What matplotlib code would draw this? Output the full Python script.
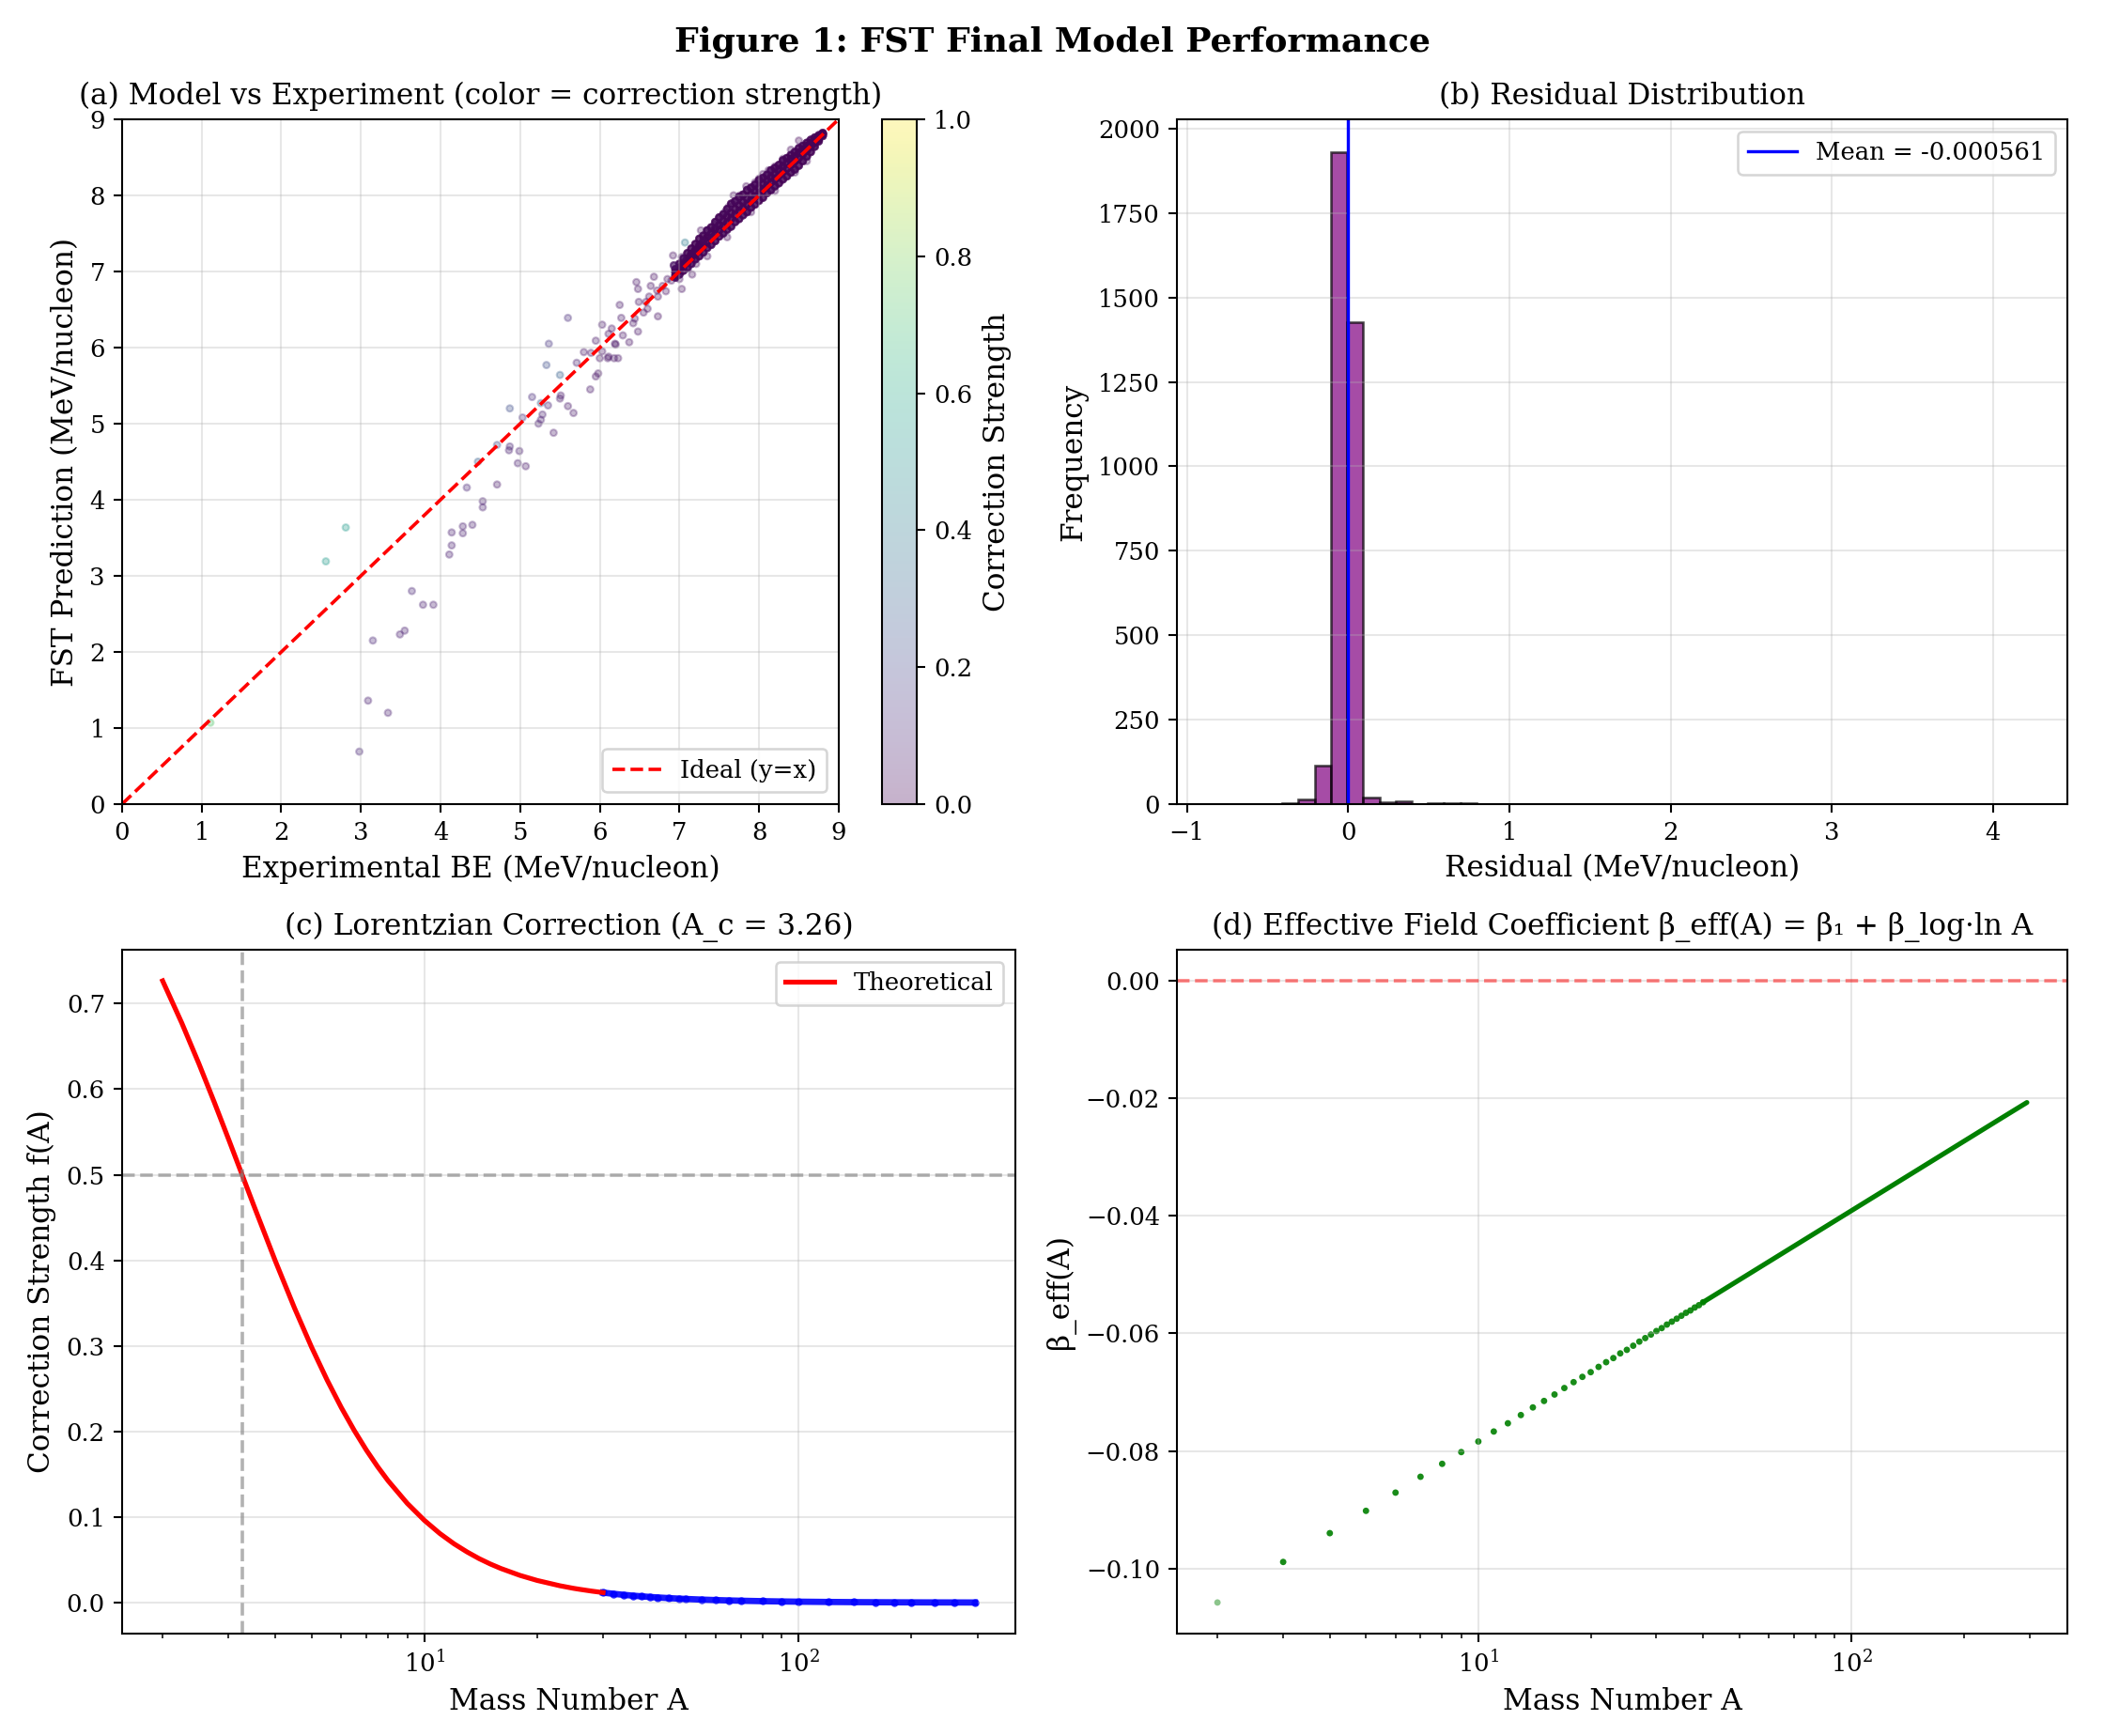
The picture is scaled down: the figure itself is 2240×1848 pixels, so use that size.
import numpy as np
import matplotlib
matplotlib.use("Agg")
import matplotlib.pyplot as plt

# ---------------- data ----------------
# (a) isolated nuclei: experimental BE, FST prediction, correction strength
scatter_exp = [1.11, 2.56, 2.81, 2.98, 3.09, 3.34, 3.15, 3.49, 3.55, 3.64, 3.78, 3.91,
               4.11, 4.14, 4.14, 4.28, 4.28, 4.40, 4.53, 4.53, 4.33, 4.71, 4.47, 4.71,
               4.87, 4.86, 4.99, 4.97, 5.07, 4.87, 5.03, 5.23, 5.26, 5.28, 5.42, 5.15,
               5.26, 5.35, 5.50, 5.51, 5.60, 5.67, 5.33, 5.50, 5.71, 5.88, 5.95, 5.98,
               6.00, 6.10, 6.18, 6.23, 5.36, 5.60, 6.03, 5.95, 6.25, 6.27, 6.15, 6.11,
               6.19, 6.20, 6.29, 6.37, 6.48, 6.42, 6.44, 5.80, 5.89, 6.03, 6.11, 6.46,
               6.48, 6.49, 6.58, 6.62, 6.68, 6.64, 6.72, 6.73, 6.73, 6.60, 6.55, 6.79,
               6.83, 6.85, 6.90, 6.92, 6.93, 6.93, 6.93, 7.00, 7.03, 7.07, 7.03, 7.16,
               7.11, 7.21, 7.27, 7.35, 7.41, 7.57, 7.62, 7.68, 7.76, 7.84, 7.95, 8.05,
               8.12, 8.20, 8.30, 8.40, 8.50, 7.30, 7.45, 7.50, 7.70, 7.90, 8.00, 7.35,
               7.60, 7.90, 8.20, 8.45, 8.60]
scatter_fst = [1.07, 3.19, 3.635, 0.69, 1.36, 1.20, 2.15, 2.23, 2.28, 2.80, 2.62, 2.62,
               3.28, 3.40, 3.57, 3.56, 3.65, 3.67, 3.98, 3.90, 4.16, 4.20, 4.50, 4.72,
               4.70, 4.65, 4.64, 4.48, 4.44, 5.20, 5.08, 5.00, 5.05, 5.12, 4.88, 5.35,
               5.27, 5.24, 5.33, 5.37, 5.23, 5.14, 5.77, 5.64, 5.80, 5.45, 5.62, 5.66,
               5.86, 5.86, 5.86, 5.86, 6.05, 6.39, 6.30, 6.09, 6.56, 6.39, 6.25, 6.18,
               6.05, 6.04, 6.16, 6.07, 6.21, 6.32, 6.38, 5.94, 5.93, 5.95, 5.88, 6.86,
               6.77, 6.60, 6.60, 6.67, 6.93, 6.81, 6.75, 6.67, 6.41, 6.51, 6.46, 6.81,
               6.74, 6.90, 6.88, 7.21, 7.08, 7.08, 7.08, 6.90, 6.77, 7.38, 7.19, 6.96,
               7.04, 7.10, 7.54, 7.54, 7.45, 7.78, 7.85, 8.00, 8.00, 8.12, 8.17, 8.28,
               8.33, 8.38, 8.48, 8.60, 8.72, 7.40, 7.62, 7.70, 7.92, 8.10, 8.22, 7.20,
               7.45, 7.78, 8.06, 8.30, 8.45]
scatter_corr = [0.73, 0.54, 0.54, 0.10, 0.08, 0.08, 0.10, 0.08, 0.08, 0.10, 0.08, 0.08,
                0.08, 0.08, 0.08, 0.08, 0.08, 0.08, 0.08, 0.08, 0.10, 0.06, 0.30, 0.23,
                0.10, 0.08, 0.08, 0.08, 0.06, 0.23, 0.12, 0.08, 0.08, 0.08, 0.06, 0.12,
                0.30, 0.10, 0.06, 0.06, 0.06, 0.06, 0.23, 0.30, 0.08, 0.06, 0.05, 0.05,
                0.05, 0.05, 0.05, 0.05, 0.15, 0.12, 0.06, 0.06, 0.06, 0.06, 0.05, 0.05,
                0.05, 0.05, 0.05, 0.05, 0.05, 0.05, 0.05, 0.06, 0.06, 0.05, 0.05, 0.05,
                0.05, 0.05, 0.04, 0.04, 0.04, 0.04, 0.04, 0.04, 0.04, 0.04, 0.04, 0.04,
                0.04, 0.04, 0.04, 0.04, 0.04, 0.04, 0.04, 0.04, 0.04, 0.40, 0.04, 0.04,
                0.04, 0.03, 0.03, 0.03, 0.03, 0.03, 0.03, 0.02, 0.02, 0.02, 0.02, 0.02,
                0.02, 0.02, 0.02, 0.02, 0.02, 0.03, 0.03, 0.03, 0.03, 0.02, 0.02, 0.03,
                0.03, 0.02, 0.02, 0.02, 0.02]

# (a) dense band of heavy nuclei: experimental BE and residual tracks (FST - Exp)
band_exp = [6.95, 7.00, 7.05, 7.10, 7.15, 7.20, 7.25, 7.30, 7.35, 7.40, 7.45, 7.50, 7.55,
            7.60, 7.65, 7.70, 7.75, 7.80, 7.85, 7.90, 7.95, 8.00, 8.05, 8.10, 8.15, 8.20,
            8.25, 8.30, 8.35, 8.40, 8.45, 8.50, 8.55, 8.60, 8.65, 8.70, 8.75, 8.80]
band_resid_hi = [0.08, 0.10, 0.12, 0.14, 0.15, 0.16, 0.18, 0.17, 0.19, 0.18, 0.20, 0.21, 0.20,
                 0.22, 0.24, 0.22, 0.23, 0.21, 0.22, 0.20, 0.19, 0.20, 0.18, 0.17, 0.18, 0.16,
                 0.15, 0.16, 0.14, 0.13, 0.12, 0.12, 0.10, 0.09, 0.08, 0.06, 0.04, 0.02]
band_resid_midhi = [0.04, 0.05, 0.06, 0.07, 0.08, 0.08, 0.09, 0.09, 0.10, 0.10, 0.11, 0.11, 0.11,
                    0.12, 0.12, 0.12, 0.12, 0.11, 0.11, 0.11, 0.10, 0.10, 0.10, 0.09, 0.09, 0.08,
                    0.08, 0.08, 0.07, 0.07, 0.06, 0.06, 0.05, 0.05, 0.04, 0.03, 0.02, 0.01]
band_resid_midlo = [0.00, 0.01, 0.02, 0.02, 0.03, 0.03, 0.03, 0.04, 0.04, 0.04, 0.04, 0.04, 0.04,
                    0.04, 0.04, 0.04, 0.04, 0.03, 0.03, 0.03, 0.03, 0.02, 0.02, 0.02, 0.02, 0.01,
                    0.01, 0.01, 0.00, 0.00, 0.00, -0.01, -0.01, -0.01, -0.01, -0.01, -0.01, 0.00]
band_resid_lo = [-0.03, -0.04, -0.04, -0.05, -0.05, -0.04, -0.05, -0.05, -0.04, -0.05, -0.05, -0.04,
                 -0.05, -0.05, -0.06, -0.05, -0.06, -0.06, -0.07, -0.06, -0.07, -0.07, -0.08, -0.07,
                 -0.08, -0.08, -0.09, -0.09, -0.10, -0.10, -0.11, -0.11, -0.10, -0.09, -0.08, -0.06,
                 -0.04, -0.02]
band_corr = 0.01
band_overlap = 5          # nuclei stacked on each plotted band position

# (b) residual histogram
hist_min, hist_max, n_bins = -0.81, 4.21, 50
hist_counts = [1, 1, 0, 1, 4, 13, 115, 1931, 1427, 20, 5, 7, 1, 4, 2, 2, 1, 0, 1, 1,
               1, 1, 0, 0, 0, 1, 1, 1, 1, 1, 0, 1, 0, 0, 0, 0, 0, 0, 0, 0,
               0, 0, 0, 0, 0, 0, 1, 0, 0, 1]
mean_resid = -0.000561

# (c) Lorentzian correction
A_c = 3.26
theory_A = [2, 2.25, 2.5, 2.75, 3, 3.5, 4, 4.5, 5, 5.5, 6, 6.5, 7, 7.5, 8, 9, 10, 11, 12,
            13, 14, 15, 16, 18, 20, 23, 25, 26, 28, 30]
theory_f = [0.7266, 0.6773, 0.6297, 0.5843, 0.5415, 0.4645, 0.3991, 0.3442, 0.2983, 0.2600,
            0.2279, 0.2010, 0.1782, 0.1589, 0.1424, 0.1160, 0.0961, 0.0807, 0.0687, 0.0592,
            0.0514, 0.0451, 0.0399, 0.0318, 0.0259, 0.0197, 0.0167, 0.0155, 0.0134, 0.0117]
data_A = [30, 32, 34, 36, 38, 40, 42, 45, 48, 50, 55, 60, 65, 70, 80, 90, 100, 120, 140,
          160, 180, 200, 230, 260, 295]
data_f = [0.01167, 0.01027, 0.00911, 0.00813, 0.00731, 0.00660, 0.00599, 0.00522, 0.00459,
          0.00423, 0.00350, 0.00294, 0.00251, 0.00216, 0.00166, 0.00131, 0.00106, 0.00074,
          0.00054, 0.00042, 0.00033, 0.00027, 0.00020, 0.00016, 0.00012]

# (d) effective field coefficient
beta_A = list(range(2, 41))
beta_vals = [-0.1058, -0.0989, -0.0940, -0.0902, -0.0871, -0.0844, -0.0822, -0.0802, -0.0784,
             -0.0767, -0.0753, -0.0739, -0.0726, -0.0715, -0.0704, -0.0693, -0.0683, -0.0674,
             -0.0666, -0.0657, -0.0649, -0.0642, -0.0634, -0.0628, -0.0621, -0.0614, -0.0608,
             -0.0602, -0.0596, -0.0591, -0.0585, -0.0580, -0.0575, -0.0570, -0.0565, -0.0561,
             -0.0556, -0.0552, -0.0547]
beta_dense_A = [40, 60, 100, 150, 200, 250, 295]
beta_dense_vals = [-0.0547, -0.0478, -0.0391, -0.0322, -0.0273, -0.0235, -0.0207]

# ---------------- styling ----------------
plt.rcParams['font.family'] = ['DejaVu Serif', 'DejaVu Sans']
plt.rcParams['xtick.labelsize'] = 10
plt.rcParams['ytick.labelsize'] = 10
plt.rcParams['axes.labelsize'] = 12
plt.rcParams['axes.titlesize'] = 12
plt.rcParams['legend.fontsize'] = 10

DPI = 2240 / 12
fig = plt.figure(figsize=(12, 9.9), dpi=DPI)
ax_a = fig.add_axes([0.0580, 0.5368, 0.3406, 0.3945])
cax = fig.add_axes([0.4192, 0.5368, 0.0165, 0.3945])
ax_b = fig.add_axes([0.5594, 0.5368, 0.4232, 0.3945])
ax_c = fig.add_axes([0.0580, 0.0590, 0.4246, 0.3939])
ax_d = fig.add_axes([0.5594, 0.0590, 0.4232, 0.3939])

fig.suptitle('Figure 1: FST Final Model Performance', fontsize=14, fontweight='bold',
             y=0.976, va='center')

# ---------------- (a) ----------------
band_x = np.tile(np.array(band_exp), 4)
band_r = np.concatenate([band_resid_hi, band_resid_midhi, band_resid_midlo, band_resid_lo])
band_x = np.repeat(band_x, band_overlap)
band_y = band_x + np.repeat(band_r, band_overlap)
exp_all = np.concatenate([band_x, scatter_exp])
fst_all = np.concatenate([band_y, scatter_fst])
corr_all = np.concatenate([np.full(band_x.size, band_corr), scatter_corr])
sc = ax_a.scatter(exp_all, fst_all, c=corr_all, cmap='viridis', vmin=0, vmax=1,
                  s=7, alpha=0.3, linewidths=0.8)
lim = [0, 9]
ax_a.plot(lim, lim, 'r--', lw=1.4, label='Ideal (y=x)')
ax_a.set_xlim(lim)
ax_a.set_ylim(lim)
ax_a.set_xlabel('Experimental BE (MeV/nucleon)')
ax_a.set_ylabel('FST Prediction (MeV/nucleon)')
ax_a.set_title('(a) Model vs Experiment (color = correction strength)')
ax_a.legend(loc='lower right')
ax_a.grid(True, alpha=0.3)
cb = fig.colorbar(sc, cax=cax)
cb.set_label('Correction Strength', fontsize=12)

# ---------------- (b) ----------------
edges = np.linspace(hist_min, hist_max, n_bins + 1)
ax_b.bar(edges[:-1], hist_counts, width=np.diff(edges), align='edge', color='purple',
         alpha=0.7, edgecolor='black', linewidth=1.0)
ax_b.axvline(mean_resid, color='blue', lw=1.3, label=f'Mean = {mean_resid:.6f}')
ax_b.set_xlabel('Residual (MeV/nucleon)')
ax_b.set_ylabel('Frequency')
ax_b.set_title('(b) Residual Distribution')
ax_b.legend(loc='upper right')
ax_b.grid(True, alpha=0.3)

# ---------------- (c) ----------------
ax_c.plot(data_A, data_f, color='blue', lw=2.6, alpha=0.9)
ax_c.scatter(data_A, data_f, color='blue', s=5, alpha=0.8)
ax_c.plot(theory_A, theory_f, color='red', lw=2.0, label='Theoretical')
ax_c.axvline(A_c, color='gray', ls='--', alpha=0.6, lw=1.4)
ax_c.axhline(0.5, color='gray', ls='--', alpha=0.6, lw=1.4)
ax_c.set_xscale('log')
ax_c.set_xlabel('Mass Number A')
ax_c.set_ylabel('Correction Strength f(A)')
ax_c.set_title(f'(c) Lorentzian Correction (A_c = {A_c:.2f})')
ax_c.legend(loc='upper right')
ax_c.grid(True, alpha=0.3)

# ---------------- (d) ----------------
dot_alpha = [0.45] + [0.9] * (len(beta_A) - 1)
dot_colors = [(0.0, 0.5, 0.0, a) for a in dot_alpha]
ax_d.plot(beta_dense_A, beta_dense_vals, color='green', lw=2.0, solid_capstyle='round')
ax_d.scatter(beta_A, beta_vals, color=dot_colors, s=7, linewidths=0)
ax_d.axhline(0, color='red', ls='--', alpha=0.5, lw=1.4)
ax_d.set_xscale('log')
ax_d.set_xlabel('Mass Number A')
ax_d.set_ylabel('β_eff(A)')
ax_d.set_title('(d) Effective Field Coefficient β_eff(A) = β₁ + β_log·ln A')
ax_d.grid(True, alpha=0.3)

fig.savefig('out.png', dpi=DPI)
